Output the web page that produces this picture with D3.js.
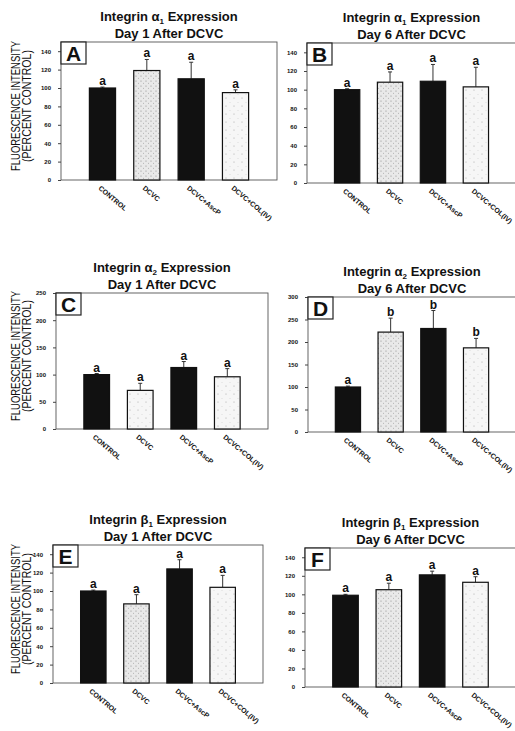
<!DOCTYPE html>
<html>
<head>
<meta charset="utf-8">
<script src="https://cdn.jsdelivr.net/npm/d3@7"></script>
<style>
  body { margin: 0; background: #fff; }
  text { font-family: "Liberation Sans", Arial, sans-serif; fill: #111; }
  .tick text { font-size: 6px; font-weight: bold; fill: #111; }
  .tick line { stroke: #444; }
</style>
</head>
<body>
<div id="chart"></div>
<script>
// treatment groups (x categories)
var groups = ["CONTROL", "DCVC", "DCVC+AscP", "DCVC+COL(IV)"];

// fluorescence intensity, percent of control
var meansA = [100, 119, 110, 95],  errA = [1, 12, 18, 3],   lettersA = ["a", "a", "a", "a"];
var meansB = [100, 108, 109, 103], errB = [1, 11, 18, 21],  lettersB = ["a", "a", "a", "a"];
var meansC = [100, 71, 113, 96],   errC = [2, 13, 11, 15],  lettersC = ["a", "a", "a", "a"];
var meansD = [100, 222, 230, 187], errD = [2, 31, 40, 21],  lettersD = ["a", "b", "b", "b"];
var meansE = [100, 86, 124, 104],  errE = [1, 10, 10, 13],  lettersE = ["a", "a", "a", "a"];
var meansF = [99, 105, 121, 113],  errF = [1, 7, 4, 6],     lettersF = ["a", "a", "a", "a"];

// y tick values
var ticks150 = [0, 20, 40, 60, 80, 100, 120, 140];
var ticks250 = [0, 50, 100, 150, 200, 250];
var ticks300 = [0, 50, 100, 150, 200, 250, 300];

var panels = [
  {id: "A", greek: "\u03b1", sub: "1", day: "1", means: meansA, errs: errA, letters: lettersA, yMax: 150, ticks: ticks150},
  {id: "B", greek: "\u03b1", sub: "1", day: "6", means: meansB, errs: errB, letters: lettersB, yMax: 150, ticks: ticks150},
  {id: "C", greek: "\u03b1", sub: "2", day: "1", means: meansC, errs: errC, letters: lettersC, yMax: 250, ticks: ticks250},
  {id: "D", greek: "\u03b1", sub: "2", day: "6", means: meansD, errs: errD, letters: lettersD, yMax: 300, ticks: ticks300},
  {id: "E", greek: "\u03b2", sub: "1", day: "1", means: meansE, errs: errE, letters: lettersE, yMax: 150, ticks: ticks150},
  {id: "F", greek: "\u03b2", sub: "1", day: "6", means: meansF, errs: errF, letters: lettersF, yMax: 150, ticks: ticks150}
];

// plot frames on the page
var frames = {
  A: {x0: 61,  y0: 42,  x1: 277, y1: 180, ylab: true},
  B: {x0: 307, y0: 43,  x1: 516, y1: 183},
  C: {x0: 56,  y0: 293, x1: 268, y1: 429, ylab: true, light: true},
  D: {x0: 308, y0: 297, x1: 516, y1: 432},
  E: {x0: 53,  y0: 545, x1: 263, y1: 683, ylab: true},
  F: {x0: 305, y0: 548, x1: 516, y1: 687}
};

var width = 515, height = 731;

var svg = d3.select("#chart").append("svg")
    .attr("width", width)
    .attr("height", height);

// stipple fills like the scanned bars
var defs = svg.append("defs");
var dense = defs.append("pattern").attr("id", "dense")
    .attr("patternUnits", "userSpaceOnUse").attr("width", 5).attr("height", 5);
dense.append("rect").attr("width", 5).attr("height", 5).attr("fill", "#e9e9e9");
dense.append("circle").attr("cx", 1).attr("cy", 1).attr("r", 0.6).attr("fill", "#8a8a8a");
dense.append("circle").attr("cx", 3.5).attr("cy", 3.2).attr("r", 0.5).attr("fill", "#a5a5a5");

var sparse = defs.append("pattern").attr("id", "sparse")
    .attr("patternUnits", "userSpaceOnUse").attr("width", 8).attr("height", 8);
sparse.append("rect").attr("width", 8).attr("height", 8).attr("fill", "#f6f6f6");
sparse.append("circle").attr("cx", 2).attr("cy", 2).attr("r", 0.5).attr("fill", "#999");
sparse.append("circle").attr("cx", 6).attr("cy", 6.5).attr("r", 0.4).attr("fill", "#bbb");

panels.forEach(function(p) {
  var f = frames[p.id];
  var g = svg.append("g");

  var x = d3.scaleBand()
      .domain(groups)
      .range([f.x0, f.x1])
      .paddingInner(0.41)
      .paddingOuter(0.64);

  var y = d3.scaleLinear()
      .domain([0, p.yMax])
      .range([f.y1, f.y0]);

  var fills = ["#111", f.light ? "url(#sparse)" : "url(#dense)", "#111", "url(#sparse)"];

  // frame
  g.append("rect")
      .attr("x", f.x0).attr("y", f.y0)
      .attr("width", f.x1 - f.x0).attr("height", f.y1 - f.y0)
      .attr("fill", "none")
      .attr("stroke", "#555")
      .attr("stroke-width", 0.9);

  // y axis
  var yAxis = d3.axisLeft(y)
      .tickValues(p.ticks)
      .tickSize(3)
      .tickPadding(7);
  g.append("g")
      .attr("transform", "translate(" + f.x0 + ",0)")
      .call(yAxis)
      .call(function(a) { a.select(".domain").remove(); });

  var data = groups.map(function(k, i) {
    return {k: k, v: p.means[i], e: p.errs[i], l: p.letters[i], fill: fills[i]};
  });

  // error bars (upper only)
  g.selectAll(".err").data(data).enter().append("line")
      .attr("x1", function(d) { return x(d.k) + x.bandwidth() / 2; })
      .attr("x2", function(d) { return x(d.k) + x.bandwidth() / 2; })
      .attr("y1", function(d) { return y(d.v); })
      .attr("y2", function(d) { return y(d.v + d.e); })
      .attr("stroke", "#333")
      .attr("stroke-width", 1);
  g.selectAll(".cap").data(data).enter().append("line")
      .attr("x1", function(d) { return x(d.k) + x.bandwidth() / 2 - 2; })
      .attr("x2", function(d) { return x(d.k) + x.bandwidth() / 2 + 2; })
      .attr("y1", function(d) { return y(d.v + d.e); })
      .attr("y2", function(d) { return y(d.v + d.e); })
      .attr("stroke", "#333")
      .attr("stroke-width", 1);

  // bars
  g.selectAll(".bar").data(data).enter().append("rect")
      .attr("x", function(d) { return x(d.k); })
      .attr("y", function(d) { return y(d.v); })
      .attr("width", x.bandwidth())
      .attr("height", function(d) { return y(0) - y(d.v); })
      .attr("fill", function(d) { return d.fill; })
      .attr("stroke", "#111")
      .attr("stroke-width", 1.2);

  // significance letters
  g.selectAll(".sig").data(data).enter().append("text")
      .attr("x", function(d) { return x(d.k) + x.bandwidth() / 2; })
      .attr("y", function(d) { return y(d.v + d.e) - 2; })
      .attr("text-anchor", "middle")
      .style("font-size", "12px")
      .style("font-weight", "bold")
      .text(function(d) { return d.l; });

  // rotated category labels
  g.selectAll(".xlab").data(data).enter().append("text")
      .attr("transform", function(d) {
        return "translate(" + (x(d.k) + x.bandwidth() / 2 - 3) + "," + (f.y1 + 7) + ") rotate(40)";
      })
      .attr("dy", "0.35em")
      .style("font-size", "7px")
      .style("font-weight", "bold")
      .text(function(d) { return d.k; });

  // panel letter box
  g.append("rect")
      .attr("x", f.x0).attr("y", f.y0)
      .attr("width", 25).attr("height", 22)
      .attr("fill", "#fff")
      .attr("stroke", "#222")
      .attr("stroke-width", 1.2);
  g.append("text")
      .attr("x", f.x0 + 12.5).attr("y", f.y0 + 19)
      .attr("text-anchor", "middle")
      .style("font-size", "21px")
      .style("font-weight", "bold")
      .text(p.id);

  // titles
  var cx = (f.x0 + f.x1) / 2;
  var t1 = g.append("text")
      .attr("x", cx).attr("y", f.y0 - 21)
      .attr("text-anchor", "middle")
      .style("font-size", "13px")
      .style("font-weight", "bold");
  t1.append("tspan").text("Integrin " + p.greek);
  t1.append("tspan").attr("dy", 3).style("font-size", "8px").text(p.sub);
  t1.append("tspan").attr("dy", -3).text(" Expression");

  g.append("text")
      .attr("x", cx).attr("y", f.y0 - 4)
      .attr("text-anchor", "middle")
      .style("font-size", "13px")
      .style("font-weight", "bold")
      .text("Day " + p.day + " After DCVC");

  // y axis label on the left column
  if (f.ylab) {
    var cy = (f.y0 + f.y1) / 2 - 5;
    g.append("text")
        .attr("transform", "translate(20," + cy + ") rotate(-90)")
        .attr("text-anchor", "middle")
        .attr("textLength", 130)
        .attr("lengthAdjust", "spacingAndGlyphs")
        .style("font-size", "12px")
        .text("FLUORESCENCE INTENSITY");
    g.append("text")
        .attr("transform", "translate(31," + cy + ") rotate(-90)")
        .attr("text-anchor", "middle")
        .attr("textLength", 112)
        .attr("lengthAdjust", "spacingAndGlyphs")
        .style("font-size", "12px")
        .text("(PERCENT CONTROL)");
  }
});
</script>
</body>
</html>
